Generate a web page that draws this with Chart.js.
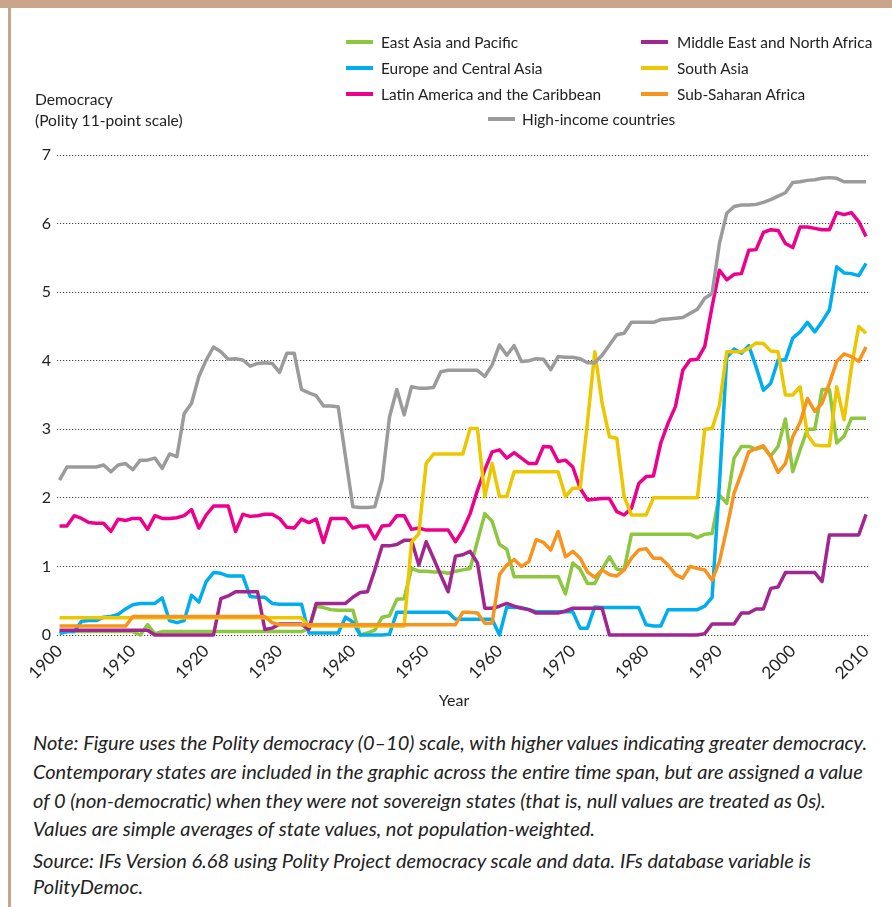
<!DOCTYPE html>
<html>
<head>
<meta charset="utf-8">
<script src="https://cdn.jsdelivr.net/npm/chart.js@4.4.1/dist/chart.umd.min.js"></script>
<style>
  html, body { margin: 0; padding: 0; background: #ffffff; }
  body { width: 892px; height: 907px; position: relative; overflow: hidden; font-family: 'Lato', 'DejaVu Sans', sans-serif; color: #222; }
  #topbar { position: absolute; left: 0; top: 0; width: 892px; height: 8px; background: #c8a58b; }
  #leftbar { position: absolute; left: 8px; top: 0; width: 3px; height: 907px; background: #c8a58b; }
  #wrap { position: absolute; left: 0; top: 0; width: 892px; height: 720px; }
  .sw { position: absolute; width: 27px; height: 4px; }
  .lt { position: absolute; font-size: 15.4px; line-height: 20px; white-space: nowrap; color: #222; }
  .yt { position: absolute; left: 35px; font-size: 15.6px; line-height: 20px; white-space: nowrap; color: #222; }
  .xt { position: absolute; left: 404px; width: 100px; text-align: center; top: 689px; font-size: 16px; line-height: 22px; color: #222; }
  .note { position: absolute; left: 33px; font-size: 20px; line-height: 24px; font-style: italic; white-space: nowrap; color: #222; }
</style>
</head>
<body>
<div id="topbar"></div>
<div id="leftbar"></div>
<div id="wrap"><canvas id="c" width="892" height="720"></canvas></div>
<div id="legend"></div>
<div class="yt" style="top:89px">Democracy</div>
<div class="yt" style="top:110px">(Polity 11-point scale)</div>
<div class="xt">Year</div>
<div class="note" style="top:730px">Note: Figure uses the Polity democracy (0–10) scale, with higher values indicating greater democracy.</div>
<div class="note" style="top:759px">Contemporary states are included in the graphic across the entire time span, but are assigned a value</div>
<div class="note" style="top:788px">of 0 (non-democratic) when they were not sovereign states (that is, null values are treated as 0s).</div>
<div class="note" style="top:816px">Values are simple averages of state values, not population-weighted.</div>
<div class="note" style="top:848px">Source: IFs Version 6.68 using Polity Project democracy scale and data. IFs database variable is</div>
<div class="note" style="top:874px">PolityDemoc.</div>
<script>
// ---- categories / ticks ----
const startYear = 1900;
const endYear = 2010;
const decadeTicks = [1900, 1910, 1920, 1930, 1940, 1950, 1960, 1970, 1980, 1990, 2000, 2010];
const yTicks = [0, 1, 2, 3, 4, 5, 6, 7];

const seriesNames = [
  'East Asia and Pacific',
  'Europe and Central Asia',
  'Latin America and the Caribbean',
  'Middle East and North Africa',
  'South Asia',
  'Sub-Saharan Africa',
  'High-income countries'
];

// ---- series values, one per year 1900..2010 ----
const eastAsiaPacific = [
  0.05,0.05,0.05,0.05,0.05,0.05,0.05,0.05,0.05,0.05,
  0.05,0.00,0.15,0.02,0.05,0.05,0.05,0.05,0.05,0.05,
  0.05,0.05,0.05,0.05,0.05,0.05,0.05,0.05,0.05,0.05,
  0.05,0.05,0.05,0.05,0.10,0.42,0.40,0.37,0.36,0.36,
  0.36,0.00,0.03,0.07,0.26,0.28,0.52,0.53,0.97,0.93,
  0.93,0.92,0.92,0.90,0.93,0.95,0.97,1.37,1.77,1.66,
  1.32,1.25,0.85,0.85,0.85,0.85,0.85,0.85,0.85,0.60,
  1.05,0.96,0.75,0.75,0.96,1.14,0.96,0.95,1.47,1.47,
  1.47,1.47,1.47,1.47,1.47,1.47,1.47,1.42,1.47,1.48,
  2.04,1.92,2.58,2.75,2.75,2.71,2.74,2.61,2.75,3.15,
  2.38,2.70,3.00,3.00,3.58,3.58,2.80,2.90,3.16,3.16,
  3.16
];
const europeCentralAsia = [
  0.02,0.05,0.05,0.20,0.21,0.21,0.26,0.27,0.30,0.38,
  0.44,0.46,0.46,0.46,0.54,0.21,0.18,0.21,0.58,0.48,
  0.78,0.91,0.90,0.86,0.86,0.86,0.56,0.55,0.55,0.46,
  0.45,0.45,0.45,0.45,0.03,0.03,0.03,0.03,0.03,0.26,
  0.19,0.00,0.00,0.00,0.00,0.01,0.33,0.33,0.33,0.33,
  0.33,0.33,0.33,0.33,0.23,0.23,0.23,0.23,0.23,0.23,
  0.00,0.41,0.40,0.40,0.37,0.34,0.34,0.34,0.34,0.34,
  0.34,0.10,0.10,0.41,0.40,0.40,0.40,0.40,0.40,0.40,
  0.15,0.13,0.13,0.37,0.37,0.37,0.37,0.37,0.42,0.55,
  2.20,4.05,4.17,4.11,4.22,3.91,3.57,3.67,4.01,4.01,
  4.33,4.42,4.56,4.42,4.57,4.74,5.37,5.28,5.27,5.24,
  5.42
];
const latinAmericaCaribbean = [
  1.59,1.59,1.74,1.70,1.64,1.63,1.63,1.51,1.69,1.67,
  1.70,1.70,1.54,1.74,1.70,1.70,1.71,1.74,1.83,1.56,
  1.75,1.88,1.88,1.88,1.51,1.76,1.73,1.74,1.76,1.76,
  1.70,1.57,1.56,1.69,1.64,1.69,1.35,1.70,1.70,1.70,
  1.56,1.59,1.59,1.40,1.59,1.60,1.74,1.74,1.54,1.56,
  1.53,1.53,1.53,1.53,1.36,1.53,1.77,2.11,2.41,2.67,
  2.70,2.58,2.66,2.58,2.50,2.50,2.75,2.74,2.53,2.55,
  2.45,2.14,1.97,1.98,1.99,1.99,1.80,1.75,1.85,2.21,
  2.31,2.32,2.80,3.09,3.33,3.86,4.01,4.02,4.21,4.79,
  5.32,5.18,5.26,5.27,5.61,5.62,5.87,5.91,5.90,5.71,
  5.65,5.95,5.95,5.93,5.91,5.91,6.16,6.13,6.16,6.03,
  5.81
];
const middleEastNorthAfrica = [
  0.07,0.07,0.07,0.07,0.07,0.07,0.07,0.07,0.07,0.07,
  0.07,0.07,0.07,0.00,0.00,0.00,0.00,0.00,0.00,0.00,
  0.00,0.00,0.53,0.57,0.63,0.63,0.63,0.63,0.08,0.10,
  0.16,0.16,0.16,0.16,0.08,0.46,0.46,0.46,0.46,0.46,
  0.55,0.62,0.63,0.95,1.30,1.30,1.32,1.38,1.38,1.02,
  1.36,1.12,0.87,0.63,1.15,1.17,1.22,1.05,0.39,0.39,
  0.42,0.46,0.42,0.39,0.37,0.32,0.32,0.32,0.32,0.35,
  0.39,0.39,0.39,0.39,0.39,0.00,0.00,0.00,0.00,0.00,
  0.00,0.00,0.00,0.00,0.00,0.00,0.00,0.00,0.02,0.16,
  0.16,0.16,0.16,0.32,0.32,0.38,0.38,0.68,0.70,0.91,
  0.91,0.91,0.91,0.91,0.78,1.46,1.46,1.46,1.46,1.46,
  1.76
];
const southAsia = [
  0.25,0.25,0.25,0.25,0.25,0.25,0.25,0.25,0.25,0.25,
  0.25,0.25,0.25,0.25,0.25,0.25,0.25,0.25,0.25,0.25,
  0.25,0.25,0.25,0.25,0.25,0.25,0.25,0.25,0.25,0.25,
  0.25,0.25,0.25,0.25,0.13,0.13,0.13,0.13,0.13,0.13,
  0.13,0.13,0.13,0.13,0.13,0.13,0.13,0.13,1.35,1.48,
  2.50,2.64,2.64,2.64,2.64,2.64,3.01,3.01,2.02,2.50,
  2.02,2.02,2.38,2.38,2.38,2.38,2.38,2.38,2.38,2.02,
  2.14,2.14,3.10,4.13,3.38,2.89,2.87,2.02,1.75,1.75,
  1.75,2.00,2.00,2.00,2.00,2.00,2.00,2.00,3.00,3.01,
  3.35,4.13,4.13,4.13,4.18,4.26,4.25,4.14,4.13,3.50,
  3.50,3.62,2.92,2.77,2.76,2.76,3.62,3.14,3.90,4.50,
  4.40
];
const subSaharanAfrica = [
  0.13,0.13,0.13,0.13,0.13,0.13,0.13,0.13,0.13,0.13,
  0.27,0.27,0.27,0.27,0.27,0.27,0.27,0.27,0.27,0.27,
  0.27,0.27,0.27,0.27,0.27,0.27,0.27,0.27,0.27,0.18,
  0.15,0.15,0.15,0.15,0.15,0.15,0.15,0.15,0.15,0.15,
  0.15,0.15,0.15,0.15,0.15,0.15,0.15,0.15,0.15,0.15,
  0.15,0.15,0.15,0.15,0.15,0.33,0.33,0.32,0.17,0.17,
  0.88,1.02,1.10,1.00,1.07,1.39,1.35,1.24,1.51,1.14,
  1.22,1.12,0.92,0.84,0.95,0.88,0.86,0.95,1.12,1.24,
  1.26,1.12,1.12,1.02,0.88,0.83,1.00,0.97,0.95,0.80,
  1.07,1.55,2.07,2.36,2.67,2.72,2.76,2.60,2.37,2.50,
  2.89,3.10,3.45,3.26,3.38,3.67,3.99,4.10,4.06,3.99,
  4.20
];
const highIncome = [
  2.26,2.45,2.45,2.45,2.45,2.45,2.48,2.38,2.48,2.50,
  2.41,2.55,2.55,2.58,2.43,2.64,2.60,3.23,3.38,3.77,
  4.01,4.20,4.13,4.02,4.03,4.01,3.92,3.96,3.97,3.96,
  3.83,4.11,4.11,3.58,3.53,3.49,3.34,3.34,3.33,2.60,
  1.87,1.86,1.86,1.87,2.26,3.18,3.58,3.21,3.62,3.60,
  3.60,3.61,3.84,3.86,3.86,3.86,3.86,3.86,3.77,3.94,
  4.23,4.08,4.22,3.99,4.00,4.03,4.02,3.87,4.06,4.05,
  4.05,4.03,3.97,3.97,4.08,4.23,4.38,4.40,4.56,4.56,
  4.56,4.56,4.60,4.61,4.62,4.63,4.69,4.75,4.91,4.98,
  5.71,6.15,6.25,6.27,6.27,6.28,6.31,6.35,6.40,6.45,
  6.60,6.61,6.63,6.64,6.66,6.67,6.66,6.61,6.61,6.61,
  6.61
];

const seriesColors = ['#8dc63f', '#00aeef', '#ec008c', '#a2268f', '#ecc700', '#f7941d', '#9b9b9b'];
const seriesValues = [eastAsiaPacific, europeCentralAsia, latinAmericaCaribbean, middleEastNorthAfrica, southAsia, subSaharanAfrica, highIncome];

const years = [];
for (let y = startYear; y <= endYear; y++) years.push(y);

// ---- HTML legend (2 columns + centred last row) ----
const legendSlots = [
  { i: 0, sx: 346, tx: 381, cy: 42 },
  { i: 1, sx: 346, tx: 381, cy: 68 },
  { i: 2, sx: 346, tx: 381, cy: 94 },
  { i: 3, sx: 641, tx: 677, cy: 42 },
  { i: 4, sx: 641, tx: 677, cy: 68 },
  { i: 5, sx: 641, tx: 677, cy: 94 },
  { i: 6, sx: 488, tx: 522, cy: 119 }
];
const legendEl = document.getElementById('legend');
legendSlots.forEach(s => {
  const sw = document.createElement('div');
  sw.className = 'sw';
  sw.style.left = s.sx + 'px';
  sw.style.top = (s.cy - 2) + 'px';
  sw.style.background = seriesColors[s.i];
  legendEl.appendChild(sw);
  const t = document.createElement('div');
  t.className = 'lt';
  t.style.left = s.tx + 'px';
  t.style.top = (s.cy - 10) + 'px';
  t.textContent = seriesNames[s.i];
  legendEl.appendChild(t);
});

// ---- chart ----
const datasets = seriesValues.map((vals, i) => ({
  label: seriesNames[i],
  data: vals.map((v, k) => ({ x: years[k], y: v })),
  borderColor: seriesColors[i],
  backgroundColor: seriesColors[i],
  borderWidth: 3.5,
  pointRadius: 0,
  tension: 0,
  fill: false,
  clip: false,
  borderJoinStyle: 'round',
  order: seriesValues.length - i
}));

const FONT = "'Lato', 'DejaVu Sans', sans-serif";

new Chart(document.getElementById('c'), {
  type: 'line',
  data: { datasets },
  options: {
    responsive: false,
    animation: false,
    events: [],
    layout: { padding: { top: 155, left: 0, right: 23, bottom: 0 } },
    plugins: { legend: { display: false }, tooltip: { enabled: false } },
    scales: {
      x: {
        type: 'linear',
        min: 1899.65,
        max: 2010.4,
        afterBuildTicks: (s) => { s.ticks = decadeTicks.map(v => ({ value: v })); },
        afterFit: (s) => { s.height = 85; },
        ticks: {
          autoSkip: false,
          minRotation: 45,
          maxRotation: 45,
          padding: 6,
          color: '#222',
          font: { family: FONT, size: 17 },
          callback: (v) => String(v)
        },
        grid: { display: false, drawTicks: false },
        border: { display: false },
        title: { display: false }
      },
      y: {
        min: 0,
        max: 7,
        afterBuildTicks: (s) => { s.ticks = yTicks.map(v => ({ value: v })); },
        afterFit: (s) => { s.width = 57; },
        ticks: {
          padding: 6,
          color: '#222',
          font: { family: FONT, size: 16 }
        },
        grid: { color: '#444', lineWidth: 1, drawTicks: false },
        border: { display: false, dash: [1.2, 1.8] }
      }
    }
  }
});
</script>
</body>
</html>
